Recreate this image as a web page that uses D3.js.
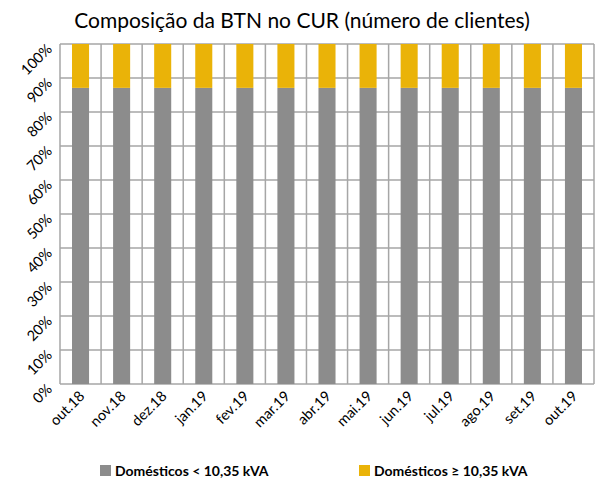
<!DOCTYPE html>
<html>
<head>
<meta charset="utf-8">
<script src="https://cdn.jsdelivr.net/npm/d3@7"></script>
<style>
  body { margin: 0; background: #fff; }
  text { font-family: Lato, "Open Sans", sans-serif; fill: #000; }
</style>
</head>
<body>
<div class="chart"></div>
<script>
// Categories and values (percentage of clients)
var months = ["out.18", "nov.18", "dez.18", "jan.19", "fev.19", "mar.19", "abr.19",
  "mai.19", "jun.19", "jul.19", "ago.19", "set.19", "out.19"];
var domLow = [87.1, 87.1, 87.1, 87.1, 87.1, 87.1, 87.1, 87.1, 87.1, 87.1, 87.1, 87.1, 87.1];
var domHigh = [12.9, 12.9, 12.9, 12.9, 12.9, 12.9, 12.9, 12.9, 12.9, 12.9, 12.9, 12.9, 12.9];
var yTicks = [0, 10, 20, 30, 40, 50, 60, 70, 80, 90, 100];
var seriesNames = ["Domésticos < 10,35 kVA", "Domésticos ≥ 10,35 kVA"];
var colors = ["#8c8c8c", "#eab308"];

var svgWidth = 595;
var svgHeight = 484;

var margin = { top: 44, right: 1, bottom: 100, left: 60 };
var width = svgWidth - margin.left - margin.right;
var height = svgHeight - margin.top - margin.bottom;

var svg = d3.select(".chart")
  .append("svg")
  .attr("width", svgWidth)
  .attr("height", svgHeight);

svg.append("text")
  .attr("x", 302)
  .attr("y", 28)
  .attr("text-anchor", "middle")
  .style("font-size", "21px")
  .text("Composição da BTN no CUR (número de clientes)");

var chartGroup = svg.append("g")
  .attr("transform", `translate(${margin.left}, ${margin.top})`);

var xBand = d3.scaleBand()
  .domain(months)
  .range([0, width]);

var yScale = d3.scaleLinear()
  .domain([0, 100])
  .range([height, 0]);

var barWidth = xBand.bandwidth() * 0.415;

// horizontal grid lines
chartGroup.selectAll(".hgrid")
  .data(yTicks)
  .enter()
  .append("line")
  .attr("x1", 0)
  .attr("x2", width)
  .attr("y1", d => yScale(d))
  .attr("y2", d => yScale(d))
  .attr("stroke", "#a6a6a6")
  .attr("stroke-width", 1.5);

// vertical grid lines at category boundaries
var bounds = months.map(m => xBand(m)).concat([width]);
chartGroup.selectAll(".vgrid")
  .data(bounds)
  .enter()
  .append("line")
  .attr("x1", d => d)
  .attr("x2", d => d)
  .attr("y1", 0)
  .attr("y2", height)
  .attr("stroke", "#a6a6a6")
  .attr("stroke-width", 1.5);

// stacked bars
var rows = months.map((m, i) => ({ month: m, low: domLow[i], high: domHigh[i] }));
var stack = d3.stack().keys(["low", "high"])(rows);

chartGroup.selectAll(".series")
  .data(stack)
  .enter()
  .append("g")
  .attr("fill", (d, i) => colors[i])
  .selectAll("rect")
  .data(d => d)
  .enter()
  .append("rect")
  .attr("x", d => xBand(d.data.month) + (xBand.bandwidth() - barWidth) / 2)
  .attr("y", d => yScale(d[1]))
  .attr("width", barWidth)
  .attr("height", d => yScale(d[0]) - yScale(d[1]));

// y axis labels
chartGroup.selectAll(".ylab")
  .data(yTicks)
  .enter()
  .append("text")
  .attr("text-anchor", "end")
  .attr("transform", d => `translate(-7, ${yScale(d) + 6}) rotate(-45)`)
  .style("font-size", "14.5px")
  .text(d => d + "%");

// x axis labels
chartGroup.selectAll(".xlab")
  .data(months)
  .enter()
  .append("text")
  .attr("text-anchor", "end")
  .attr("transform", d => `translate(${xBand(d) + xBand.bandwidth() / 2 + 5}, ${height + 13}) rotate(-45)`)
  .style("font-size", "14.5px")
  .text(d => d);

// legend
var legendX = [100, 359];
var legend = svg.selectAll(".legend")
  .data(seriesNames)
  .enter()
  .append("g")
  .attr("transform", (d, i) => `translate(${legendX[i]}, 465)`);

legend.append("rect")
  .attr("width", 11)
  .attr("height", 11)
  .attr("fill", (d, i) => colors[i]);

legend.append("text")
  .attr("x", 15)
  .attr("y", 11)
  .style("font-size", "14px")
  .style("font-weight", "bold")
  .text(d => d);
</script>
</body>
</html>
